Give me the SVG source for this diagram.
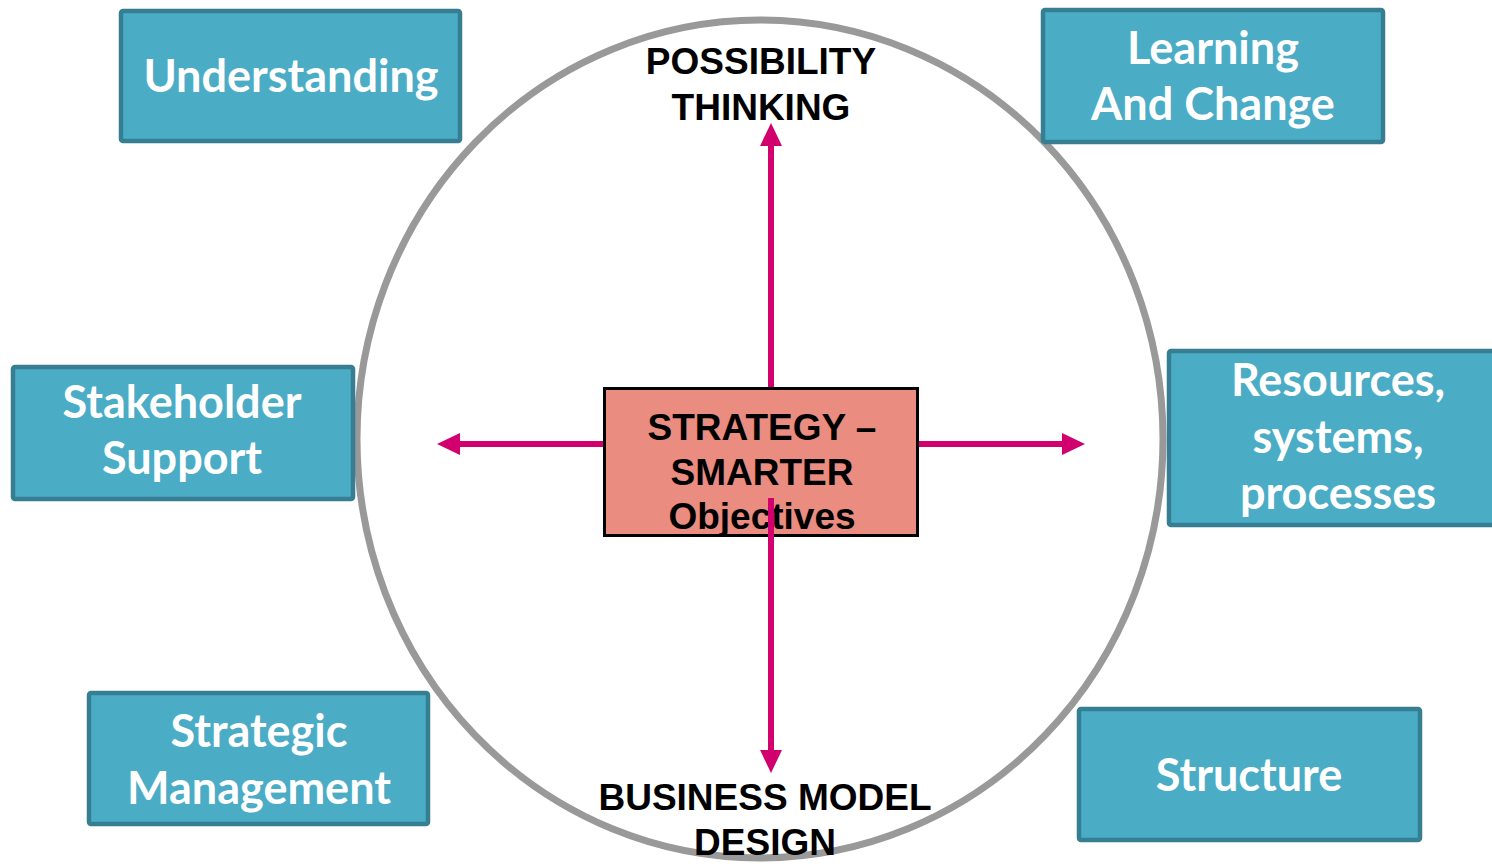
<svg xmlns="http://www.w3.org/2000/svg" width="1492" height="867" viewBox="0 0 1492 867">
<style>
.box{fill:#4BACC6;stroke:#367E92;stroke-width:4.5}
.bt{font-family:Lato,"Liberation Sans",sans-serif;font-weight:bold;font-size:45px;fill:#FFFFFF;text-anchor:middle}
.lbl{font-family:"Liberation Sans",Arial,sans-serif;font-weight:bold;font-size:37px;fill:#000000;text-anchor:middle}
.arr{stroke:#D2006E;stroke-width:6;fill:none}
.head{fill:#D2006E}
</style>
<rect width="1492" height="867" fill="#FFFFFF"/>
<ellipse id="ring" cx="760" cy="439" rx="403" ry="419" fill="none" stroke="#999999" stroke-width="7"/>
<g id="center">
<rect x="604.5" y="388.5" width="313" height="147" fill="#EA8C7F" stroke="#000000" stroke-width="3"/>
<text class="lbl" x="762" y="440">STRATEGY –</text>
<text class="lbl" x="762" y="485">SMARTER</text>
<text class="lbl" x="762" y="529">Objectives</text>
</g>
<g id="connectors">
<line class="arr" x1="771" y1="387" x2="771" y2="143"/>
<polygon class="head" points="771,123 760,146 782,146"/>
<line class="arr" x1="771" y1="498" x2="771" y2="752"/>
<polygon class="head" points="771,773 760,750 782,750"/>
<line class="arr" x1="603" y1="444" x2="457" y2="444"/>
<polygon class="head" points="437,444 460,433 460,455"/>
<line class="arr" x1="919" y1="444" x2="1065" y2="444"/>
<polygon class="head" points="1085,444 1062,433 1062,455"/>
</g>
<g id="top-label">
<text class="lbl" x="761" y="74">POSSIBILITY</text>
<text class="lbl" x="761" y="120">THINKING</text>
</g>
<g id="bottom-label">
<text class="lbl" x="765" y="810">BUSINESS MODEL</text>
<text class="lbl" x="765" y="855">DESIGN</text>
</g>
<g id="understanding">
<rect class="box" x="121" y="11" width="339" height="130" rx="2"/>
<text class="bt" x="291" y="92">Understanding</text>
</g>
<g id="learning">
<rect class="box" x="1043" y="10" width="340" height="132" rx="2"/>
<text class="bt" x="1213" y="64">Learning</text>
<text class="bt" x="1213" y="120">And Change</text>
</g>
<g id="stakeholder">
<rect class="box" x="13" y="367" width="340" height="132" rx="2"/>
<text class="bt" x="182" y="418">Stakeholder</text>
<text class="bt" x="182" y="474">Support</text>
</g>
<g id="resources">
<rect class="box" x="1169" y="351" width="340" height="174" rx="2"/>
<text class="bt" x="1338" y="396">Resources,</text>
<text class="bt" x="1338" y="453">systems,</text>
<text class="bt" x="1338" y="509">processes</text>
</g>
<g id="strategic">
<rect class="box" x="89" y="693" width="339" height="131" rx="2"/>
<text class="bt" x="259" y="747">Strategic</text>
<text class="bt" x="259" y="804">Management</text>
</g>
<g id="structure">
<rect class="box" x="1079" y="709" width="341" height="131" rx="2"/>
<text class="bt" x="1249" y="791">Structure</text>
</g>
</svg>
